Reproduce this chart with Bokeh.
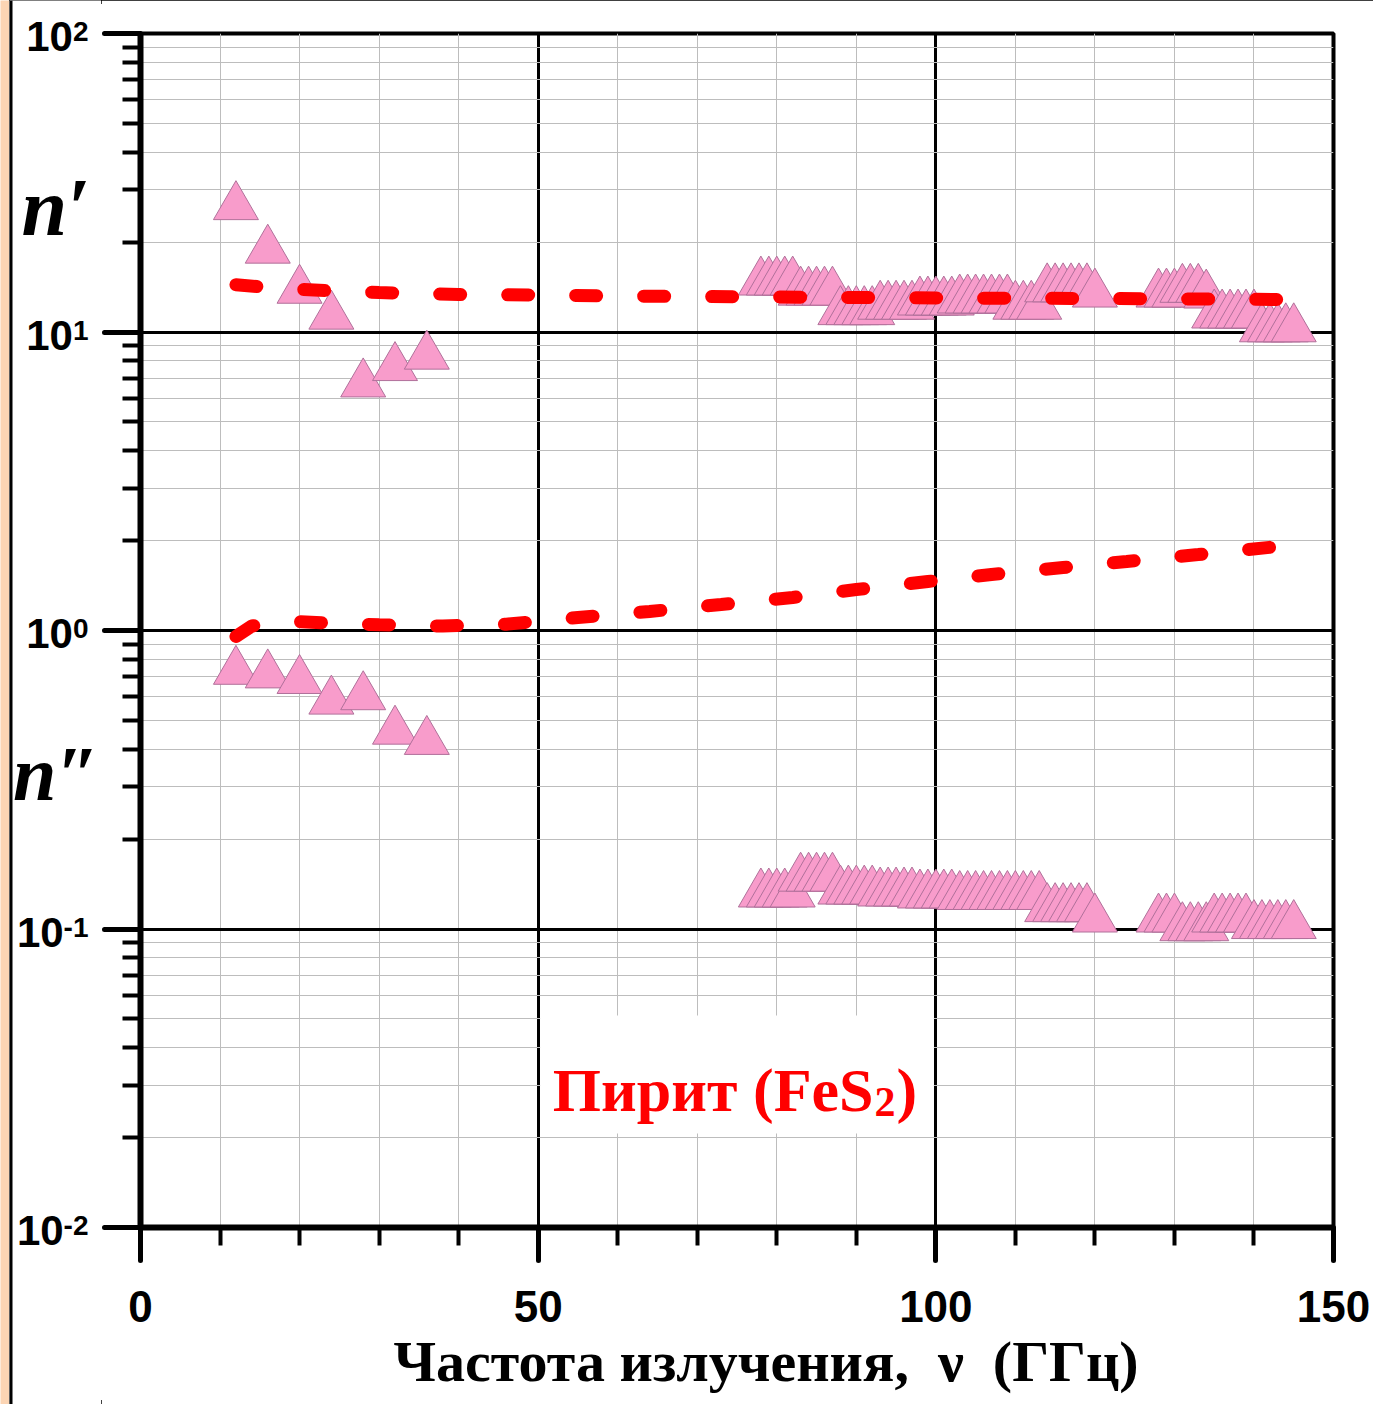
from bokeh.plotting import figure
from bokeh.models import FixedTicker, Label, Range1d, CustomJSTickFormatter, Title
from bokeh.layouts import row
from bokeh.embed import file_html
from bokeh.resources import INLINE

# ---------------- data ----------------
freq_lo = [12, 16, 20, 24, 28, 32, 36]
n_re_lo = [26.3, 18.8, 13.8, 11.3, 6.7, 7.6, 8.3]
n_im_lo = [0.73, 0.71, 0.68, 0.58, 0.60, 0.46, 0.425]

freq_hi_a = [78, 79, 80, 81, 82, 83, 84, 85, 86, 87, 88, 89, 90, 91, 92, 93, 94, 95, 96, 97,
             98, 99, 100, 101, 102, 103, 104, 105, 106, 107, 108, 109, 110, 111, 112, 113,
             114, 115, 116, 117, 118, 119, 120]
n_re_hi_a = [14.7, 14.7, 14.7, 14.7, 14.7, 13.6, 13.6, 13.6, 13.6, 13.6,
             11.7, 11.7, 11.7, 11.7, 11.7, 12.2, 12.2, 12.2, 12.2, 12.2,
             12.6, 12.6, 12.6, 12.6, 12.6, 12.8, 12.8, 12.8, 12.8, 12.8, 12.8, 12.8,
             12.2, 12.2, 12.2, 12.2, 13.95, 13.95, 13.95, 13.95, 13.95, 13.95, 13.4]
n_im_hi_a = [0.131, 0.131, 0.131, 0.131, 0.131, 0.148, 0.148, 0.148, 0.148, 0.148,
             0.134, 0.134, 0.134, 0.134, 0.134, 0.132, 0.132, 0.132, 0.132, 0.132,
             0.130, 0.130, 0.130, 0.130, 0.130, 0.1285, 0.1285, 0.1285, 0.1285, 0.1285,
             0.1285, 0.1285, 0.1285, 0.1285, 0.1285, 0.1285,
             0.117, 0.117, 0.117, 0.117, 0.117, 0.117, 0.108]

freq_hi_b = [128, 129, 130, 131, 132, 133, 134, 135, 136, 137, 138, 139, 140, 141, 142, 143, 144, 145]
n_re_hi_b = [13.4, 13.4, 13.4, 13.9, 13.9, 13.9, 13.3, 11.4, 11.4, 11.4, 11.4, 11.4, 11.4,
             10.25, 10.25, 10.25, 10.25, 10.25]
n_im_hi_b = [0.108, 0.108, 0.108, 0.101, 0.101, 0.101, 0.101, 0.108, 0.108, 0.108, 0.108, 0.108,
             0.1027, 0.1027, 0.1027, 0.1027, 0.1027, 0.1027]

fit_freq_re = [12, 16, 20, 25, 30, 40, 50, 60, 80, 100, 120, 143]
fit_n_re = [14.4, 14.1, 13.9, 13.7, 13.55, 13.35, 13.3, 13.2, 13.1, 13.0, 12.95, 12.85]

fit_freq_im = [12, 14, 17, 20, 25, 30, 38, 46, 55, 64, 73, 82, 90, 99, 107, 116, 124, 133, 143]
fit_n_im = [0.955, 1.035, 1.065, 1.07, 1.056, 1.045, 1.035, 1.05, 1.105, 1.158, 1.222, 1.29,
            1.372, 1.459, 1.54, 1.626, 1.703, 1.797, 1.911]

x_major = [0, 50, 100, 150]
x_minor = [10, 20, 30, 40, 60, 70, 80, 90, 110, 120, 130, 140]
y_exponents = [2, 1, 0, -1, -2]

x_title = "Частота излучения,\u00a0 \u03bd\u00a0 (ГГц)"
sample_name = "Пирит (FeS"
sample_sub = "2"

# ---------------- page geometry (pixels) ----------------
W, H = 1373, 1404
PEACH_W = 9            # peach stripe at the far left
LEFT_W = 101           # right edge of the label strip
FL, FR, FT, FB = 140, 1333, 33, 1227
X0, X1 = 0.0, 150.0
LOG0, LOG1 = -2.0, 2.0
SANS = "Liberation Sans"
SERIF = "Liberation Serif"


def px_x(px):
    return X0 + (px - FL) / (FR - FL) * (X1 - X0)


def px_y(py):
    return 10 ** (LOG1 - (py - FT) / (FB - FT) * (LOG1 - LOG0))


# ---------------- main plot ----------------
p = figure(width=W - LEFT_W, height=H, x_range=Range1d(X0, X1),
           y_range=Range1d(10 ** LOG0, 10 ** LOG1), y_axis_type="log",
           output_backend="svg", toolbar_location=None,
           min_border_left=FL - LEFT_W, min_border_right=W - FR,
           min_border_top=FT, min_border_bottom=H - FB)
p.background_fill_color = "white"
p.border_fill_color = "white"
p.outline_line_color = "black"
p.outline_line_width = 4
p.frame_align = False

xt = FixedTicker(ticks=x_major, minor_ticks=x_minor)
y_minor = [m * 10.0 ** e for e in range(-2, 2) for m in range(2, 10)]
yt = FixedTicker(ticks=[10.0 ** e for e in y_exponents], minor_ticks=y_minor)
p.xaxis.ticker = xt
p.yaxis.ticker = yt
p.xgrid.ticker = xt
p.ygrid.ticker = yt

for g in (p.xgrid, p.ygrid):
    g.grid_line_color = "black"
    g.grid_line_width = 3
    g.minor_grid_line_color = "#BDBDBD"
    g.minor_grid_line_width = 1

for ax in (p.xaxis, p.yaxis):
    ax.axis_line_width = 6
    ax.axis_line_color = "black"
    ax.major_tick_in = 0
    ax.minor_tick_in = 0
    ax.major_tick_line_width = 5
    ax.minor_tick_line_width = 4
    ax.major_tick_line_cap = "round"

p.xaxis.major_tick_out = 33
p.xaxis.minor_tick_out = 18
p.yaxis.major_tick_out = 36
p.yaxis.minor_tick_out = 18

p.xaxis.major_label_text_font = SANS
p.xaxis.major_label_text_font_style = "bold"
p.xaxis.major_label_text_font_size = "44px"
p.xaxis.major_label_text_color = "black"
p.xaxis.major_label_standoff = 30
p.yaxis.formatter = CustomJSTickFormatter(code="return ''")
p.yaxis.major_label_standoff = 0

p.add_layout(Title(text=x_title, align="left", offset=393 - FL, standoff=4,
                   text_font=SERIF, text_font_style="bold", text_font_size="58px",
                   text_color="black"), "below")

tri_fill = "#F89CCB"
tri_line = "#B0709A"
for xs, ys in ((freq_lo, n_re_lo), (freq_hi_a, n_re_hi_a), (freq_hi_b, n_re_hi_b),
               (freq_lo, n_im_lo), (freq_hi_a, n_im_hi_a), (freq_hi_b, n_im_hi_b)):
    p.scatter(xs, ys, marker="triangle", size=45, fill_color=tri_fill, line_color=tri_line,
              line_width=1)

p.line(fit_freq_re, fit_n_re, line_color="#FF0000", line_width=13, line_dash="21 47",
       line_cap="round")
p.line(fit_freq_im, fit_n_im, line_color="#FF0000", line_width=13, line_dash="21 47",
       line_cap="round")

# white box behind the sample name
p.quad(left=[50.25], right=[99.75], bottom=[px_y(1133)], top=[px_y(1015)], fill_color="white",
       line_color=None)
p.add_layout(Label(x=px_x(873), y=px_y(1089), text=sample_name, text_align="right",
                   text_baseline="alphabetic", text_font=SERIF, text_font_style="bold",
                   text_font_size="62px", text_color="#FF0000"))
p.add_layout(Label(x=px_x(874), y=px_y(1101), text=sample_sub, text_align="left",
                   text_baseline="alphabetic", text_font=SERIF, text_font_style="bold",
                   text_font_size="42px", text_color="#FF0000"))
p.add_layout(Label(x=px_x(896), y=px_y(1089), text=")", text_align="left",
                   text_baseline="alphabetic", text_font=SERIF, text_font_style="bold",
                   text_font_size="62px", text_color="#FF0000"))

# ---------------- left strip: y tick labels and n', n'' ----------------
lf = figure(width=LEFT_W - PEACH_W, height=H, x_range=Range1d(PEACH_W, LEFT_W),
            y_range=Range1d(px_y(H), px_y(0)), y_axis_type="log",
            x_axis_location=None, y_axis_location=None, min_border=0,
            output_backend="svg", toolbar_location=None)
lf.grid.visible = False
lf.outline_line_color = None
lf.background_fill_color = "white"
lf.border_fill_color = "white"
lf.frame_align = False
lf.quad(left=[PEACH_W], right=[PEACH_W + 3], bottom=[px_y(H)], top=[px_y(0)],
        fill_color="black", line_color=None)

for e in y_exponents:
    ty = FT + (LOG1 - e) / (LOG1 - LOG0) * (FB - FT)
    exp_txt = str(e)
    exp_w = sum(0.333 if ch == "-" else 0.556 for ch in exp_txt) * 28
    right_edge = 88
    lf.add_layout(Label(x=right_edge - exp_w, y=10.0 ** e * px_y(ty + 3) / px_y(ty), text="10",
                        text_align="right", text_baseline="middle", text_font=SANS,
                        text_font_style="bold", text_font_size="42px", text_color="black"))
    lf.add_layout(Label(x=right_edge, y=10.0 ** e * px_y(ty - 2) / px_y(ty), text=exp_txt,
                        text_align="right", text_baseline="alphabetic", text_font=SANS,
                        text_font_style="bold", text_font_size="28px", text_color="black"))

lf.add_layout(Label(x=21, y=px_y(207), text="n\u2032", text_align="left",
                    text_baseline="alphabetic", text_font=SERIF, text_font_style="bold italic",
                    text_font_size="82px", text_color="black"))
lf.add_layout(Label(x=LEFT_W - 2, y=px_y(773), text="n\u2033", text_align="right",
                    text_baseline="alphabetic", text_font=SERIF, text_font_style="bold italic",
                    text_font_size="78px", text_color="black"))

# ---------------- peach stripe ----------------
pf = figure(width=PEACH_W, height=H, x_axis_location=None, y_axis_location=None, min_border=0,
            output_backend="svg", toolbar_location=None)
pf.grid.visible = False
pf.outline_line_color = None
pf.background_fill_color = "#FCD5B4"
pf.border_fill_color = "#FCD5B4"
pf.frame_align = False

inner = row(lf, p)
inner.styles = {"outline": "4px solid black", "outline-offset": "-4px"}
root = row(pf, inner)

open("out.html", "w").write(file_html(root, INLINE))
